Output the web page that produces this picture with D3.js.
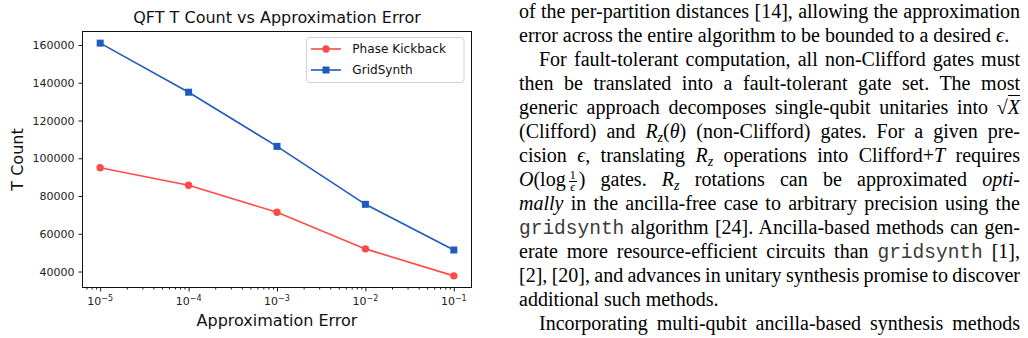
<!DOCTYPE html>
<html><head><meta charset="utf-8">
<script src="https://cdn.jsdelivr.net/npm/d3@7"></script>
<style>
html,body{margin:0;padding:0;background:#fff;}
body{width:1028px;height:338px;overflow:hidden;position:relative;}
svg{position:absolute;left:0;top:0;}
.ln{position:absolute;white-space:nowrap;font-family:"Liberation Serif","Times New Roman",serif;font-size:20px;line-height:24px;color:#000;}
.tt{font-family:"Liberation Mono",monospace;color:#3a3a3a;font-size:19.5px;}
.sub{font-size:14px;vertical-align:-4px;line-height:0;}
.frac{display:inline-block;vertical-align:-5px;text-align:center;font-size:12px;line-height:11px;margin:0 2px 0 3px;}
.frac .num{display:block;border-bottom:1px solid #000;padding:0 1px;}
.frac .den{display:block;}
.ov{border-top:1px solid #000;}
</style></head><body>
<script>
// ---- chart data ----
const errors = [1e-5, 1e-4, 1e-3, 1e-2, 1e-1];
const phaseKickback = [95000, 85700, 71400, 52000, 37700];
const gridSynth = [161000, 135000, 106300, 75600, 51400];
const yTicks = [40000, 60000, 80000, 100000, 120000, 140000, 160000];
const xTicks = [1e-5, 1e-4, 1e-3, 1e-2, 1e-1];
const xTickExps = [-5, -4, -3, -2, -1];
const seriesNames = ["Phase Kickback", "GridSynth"];
const seriesColors = ["#ff4a4a", "#1f5bbd"];
const chartTitle = "QFT T Count vs Approximation Error";
const xLabel = "Approximation Error";
const yLabel = "T Count";

// ---- page text ----
const textLines = [
 {x:519, j:true,  html:'of the per-partition distances [14], allowing the approximation'},
 {x:519, j:false, html:'error across the entire algorithm to be bounded to a desired <i>ϵ</i>.'},
 {x:539, j:true,  html:'For fault-tolerant computation, all non-Clifford gates must'},
 {x:519, j:true,  html:'then be translated into a fault-tolerant gate set. The most'},
 {x:519, j:true,  html:'generic approach decomposes single-qubit unitaries into √<span class="ov"><i>X</i></span>'},
 {x:519, j:true,  html:'(Clifford) and <i>R</i><span class="sub"><i>z</i></span>(<i>θ</i>) (non-Clifford) gates. For a given pre-'},
 {x:519, j:true,  html:'cision <i>ϵ</i>, translating <i>R</i><span class="sub"><i>z</i></span> operations into Clifford+<i>T</i> requires'},
 {x:519, j:true,  html:'<i>O</i>(log<span class="frac"><span class="num">1</span><span class="den"><i>ϵ</i></span></span>) gates. <i>R</i><span class="sub"><i>z</i></span> rotations can be approximated <i>opti-</i>'},
 {x:519, j:true,  html:'<i>mally</i> in the ancilla-free case to arbitrary precision using the'},
 {x:519, j:true,  html:'<span class="tt">gridsynth</span> algorithm [24]. Ancilla-based methods can gen-'},
 {x:519, j:true,  html:'erate more resource-efficient circuits than <span class="tt">gridsynth</span> [1],'},
 {x:519, j:true,  html:'[2], [20], and advances in unitary synthesis promise to discover'},
 {x:519, j:false, html:'additional such methods.'},
 {x:539, j:true,  html:'Incorporating multi-qubit ancilla-based synthesis methods'}
];

const W = 1028, H = 338;
const M = {left: 82.5, right: 471.5, top: 31.5, bottom: 287.5};
const font = "DejaVu Sans";
const svg = d3.select("body").append("svg").attr("width", W).attr("height", H);

const lx0 = Math.log10(d3.min(errors)), lx1 = Math.log10(d3.max(errors));
const px = (lx1 - lx0) * 0.05;
const x = d3.scaleLog().domain([10 ** (lx0 - px), 10 ** (lx1 + px)]).range([M.left, M.right]);
const allY = phaseKickback.concat(gridSynth);
const y0 = d3.min(allY), y1 = d3.max(allY), py = (y1 - y0) * 0.05;
const y = d3.scaleLinear().domain([y0 - py, y1 + py]).range([M.bottom, M.top]);

// x axis major + minor ticks
const minor = x.ticks().filter(v => !xTicks.some(t => Math.abs(t - v) / t < 1e-6));
const gx = svg.append("g").attr("transform", `translate(0,${M.bottom})`)
  .call(d3.axisBottom(x).tickValues(xTicks).tickSize(4).tickFormat(""));
gx.select(".domain").remove();
const gxm = svg.append("g").attr("transform", `translate(0,${M.bottom})`)
  .call(d3.axisBottom(x).tickValues(minor).tickSize(2).tickFormat(""));
gxm.select(".domain").remove();
svg.selectAll(".tick line").attr("stroke", "#000").attr("stroke-width", 0.9);

svg.append("g").selectAll("text").data(xTicks).join("text")
  .attr("x", d => x(d)).attr("y", 305).attr("text-anchor", "middle")
  .attr("font-family", font).attr("font-size", 11).attr("fill", "#222")
  .each(function (d, i) {
    const t = d3.select(this);
    t.append("tspan").text("10");
    t.append("tspan").attr("dy", -4.5).attr("font-size", 8).text("\u2212" + Math.abs(xTickExps[i]));
  });

// y axis
const gy = svg.append("g").attr("transform", `translate(${M.left},0)`)
  .call(d3.axisLeft(y).tickValues(yTicks).tickSize(4).tickPadding(4).tickFormat(d3.format("d")));
gy.select(".domain").remove();
gy.selectAll(".tick line").attr("stroke", "#000").attr("stroke-width", 0.9);
gy.selectAll(".tick text").attr("font-family", font).attr("font-size", 11).attr("fill", "#222");

// spines
svg.append("rect").attr("x", M.left).attr("y", M.top)
  .attr("width", M.right - M.left).attr("height", M.bottom - M.top)
  .attr("fill", "none").attr("stroke", "#111").attr("stroke-width", 1);

// lines
const series = [phaseKickback, gridSynth];
const line = d3.line().x((d, i) => x(errors[i])).y(d => y(d));
series.forEach((s, k) => {
  svg.append("path").datum(s).attr("d", line).attr("fill", "none")
    .attr("stroke", seriesColors[k]).attr("stroke-width", 1.6);
});
svg.append("g").selectAll("circle").data(phaseKickback).join("circle")
  .attr("cx", (d, i) => x(errors[i])).attr("cy", d => y(d)).attr("r", 3.7)
  .attr("fill", seriesColors[0]);
svg.append("g").selectAll("rect").data(gridSynth).join("rect")
  .attr("x", (d, i) => x(errors[i]) - 3.5).attr("y", d => y(d) - 3.5)
  .attr("width", 7).attr("height", 7).attr("fill", seriesColors[1]);

// title & labels
svg.append("text").attr("x", (M.left + M.right) / 2).attr("y", 23).attr("text-anchor", "middle")
  .attr("font-family", font).attr("font-size", 16).attr("fill", "#111").text(chartTitle);
svg.append("text").attr("x", (M.left + M.right) / 2).attr("y", 325.5).attr("text-anchor", "middle")
  .attr("font-family", font).attr("font-size", 16).attr("fill", "#111").text(xLabel);
svg.append("text").attr("transform", `translate(22.5,${(M.top + M.bottom) / 2}) rotate(-90)`)
  .attr("text-anchor", "middle").attr("font-family", font).attr("font-size", 16)
  .attr("fill", "#111").text(yLabel);

// legend
const lg = svg.append("g");
lg.append("rect").attr("x", 306.5).attr("y", 37.5).attr("width", 157.5).attr("height", 45)
  .attr("rx", 3).attr("fill", "#fff").attr("fill-opacity", 0.8).attr("stroke", "#d3d3d3");
const rowY = [49, 70];
seriesNames.forEach((n, k) => {
  lg.append("line").attr("x1", 311).attr("x2", 341).attr("y1", rowY[k]).attr("y2", rowY[k])
    .attr("stroke", seriesColors[k]).attr("stroke-width", 1.6);
  if (k === 0) lg.append("circle").attr("cx", 326).attr("cy", rowY[k]).attr("r", 3.7).attr("fill", seriesColors[k]);
  else lg.append("rect").attr("x", 322.5).attr("y", rowY[k] - 3.5).attr("width", 7).attr("height", 7).attr("fill", seriesColors[k]);
  lg.append("text").attr("x", 352.3).attr("y", rowY[k] + 4.3).attr("font-family", font)
    .attr("font-size", 12.1).attr("fill", "#111").text(n);
});

// text column
const right = 1020;
d3.select("body").selectAll("div.ln").data(textLines).join("div")
  .attr("class", "ln")
  .style("left", d => d.x + "px").style("top", "0px")
  .html(d => d.html + '<span class="bl" style="display:inline-block;width:0;height:0;vertical-align:baseline"></span>')
  .each(function (d, i) {
    const el = this;
    if (d.j) {
      const w = el.getBoundingClientRect().width;
      const n = (el.textContent.match(/ /g) || []).length;
      if (n > 0) el.style.wordSpacing = ((right - d.x - w) / n) + "px";
    }
    const bl = el.querySelector(".bl");
    const off = bl.getBoundingClientRect().top - el.getBoundingClientRect().top;
    el.style.top = (18 + 24 * i - off) + "px";
    el.style.height = "24px";
  });
</script>
</body></html>
